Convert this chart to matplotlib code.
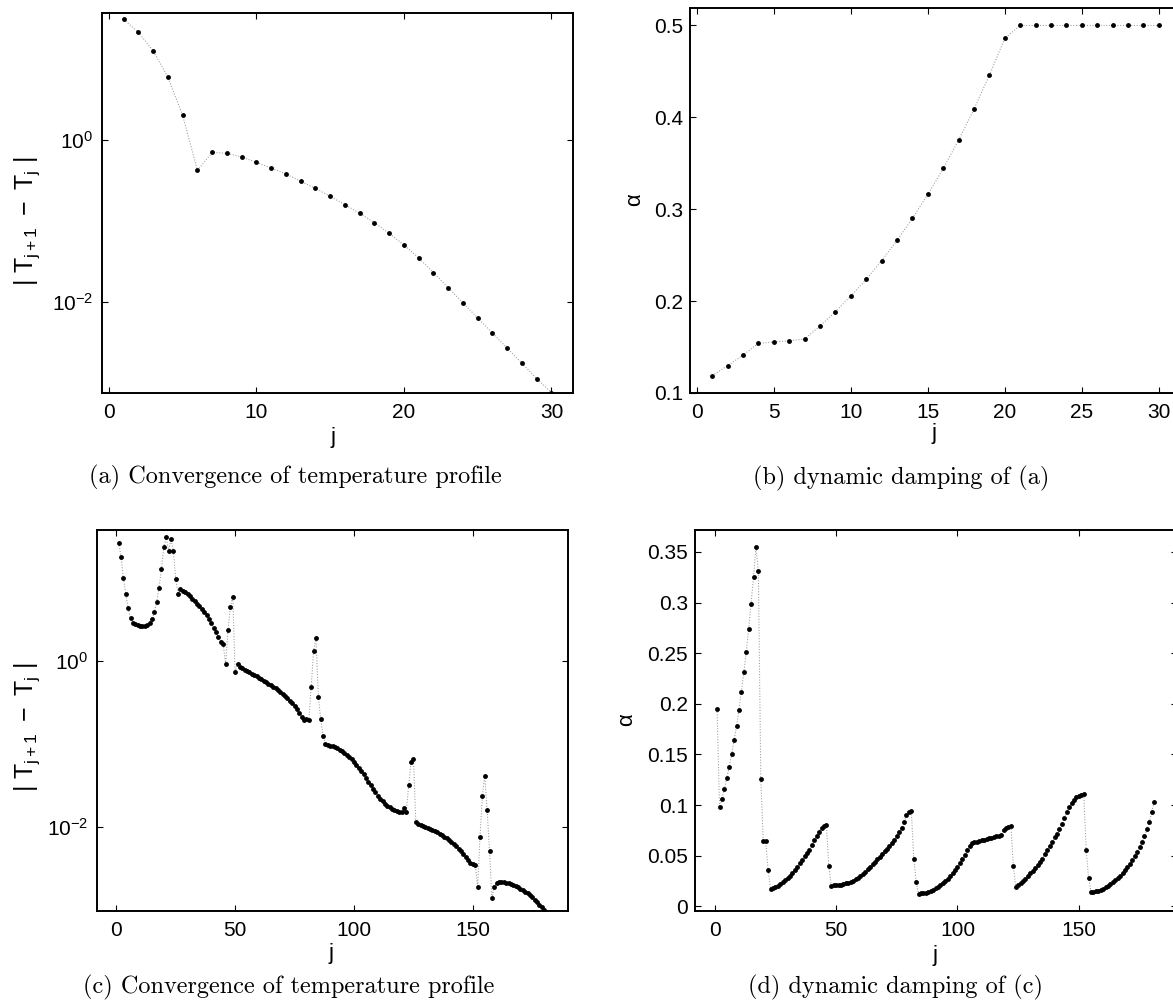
import numpy as np
import matplotlib
matplotlib.use('Agg')
import matplotlib.pyplot as plt
from matplotlib.ticker import FixedLocator, FixedFormatter, NullLocator

plt.rcParams['font.family'] = ['Liberation Sans', 'DejaVu Sans']
plt.rcParams['mathtext.fontset'] = 'custom'
plt.rcParams['mathtext.rm'] = 'Liberation Sans'
plt.rcParams['mathtext.it'] = 'Liberation Sans:italic'
plt.rcParams['mathtext.bf'] = 'Liberation Sans:bold'
plt.rcParams['mathtext.sf'] = 'Liberation Sans'

# ---------------- data ----------------
# (a) log10 |T_{j+1} - T_j| for j = 1..30
a_j = list(range(1, 31))
a_log10 = [1.493, 1.332, 1.105, 0.775, 0.305, -0.375, -0.153, -0.165, -0.210, -0.276,
           -0.346, -0.421, -0.511, -0.598, -0.697, -0.800, -0.907, -1.023, -1.155, -1.299,
           -1.460, -1.641, -1.827, -2.016, -2.202, -2.388, -2.577, -2.763, -2.953, -3.126]

# (b) alpha for j = 1..30
b_j = list(range(1, 31))
b_alpha = [0.1189, 0.1297, 0.1413, 0.1540, 0.1555, 0.1569, 0.1587, 0.1729, 0.1885, 0.2055,
           0.2237, 0.2440, 0.2661, 0.2901, 0.3161, 0.3444, 0.3753, 0.4090, 0.4460, 0.4862,
           0.5, 0.5, 0.5, 0.5, 0.5, 0.5, 0.5, 0.5, 0.5, 0.5]

# (c) log10 |T_{j+1} - T_j| for j = 1..180
c_j = list(range(1, 181))
c_log10 = [
    1.429, 1.260, 1.002, 0.813, 0.640, 0.515, 0.463, 0.443, 0.431, 0.423,
    0.423, 0.427, 0.439, 0.463, 0.503, 0.588, 0.716, 0.885, 1.107, 1.372,
    1.501, 1.328, 1.469, 1.328, 0.994, 0.813,
    0.865, 0.849, 0.829, 0.805, 0.781, 0.753, 0.724, 0.692, 0.660, 0.624,
    0.596, 0.551, 0.503, 0.455, 0.402, 0.350, 0.290, 0.233, 0.201,
    -0.036, 0.374, 0.656, 0.777, -0.133, -0.032,
    -0.076, -0.089, -0.105, -0.121, -0.137, -0.153, -0.169, -0.185, -0.201, -0.217,
    -0.237, -0.258, -0.274, -0.294, -0.310, -0.330, -0.350, -0.370, -0.394, -0.419,
    -0.447, -0.479, -0.511, -0.543, -0.584, -0.624, -0.672, -0.712,
    -0.696, -0.712, -0.310, 0.121, 0.274, -0.431, -0.700, -0.901,
    -1.006, -1.018, -1.022, -1.030, -1.042, -1.054, -1.070, -1.091, -1.111, -1.135,
    -1.159, -1.187, -1.219, -1.252, -1.288, -1.328, -1.368, -1.412, -1.457, -1.501,
    -1.545, -1.586, -1.626, -1.662, -1.694, -1.722, -1.746, -1.767, -1.783, -1.799,
    -1.811, -1.819, -1.823,
    -1.779, -1.819, -1.497, -1.223, -1.179,
    -1.940, -1.968, -1.980, -1.992, -2.000, -2.012, -2.024, -2.036, -2.052, -2.068,
    -2.085, -2.101, -2.121, -2.141, -2.161, -2.185, -2.213, -2.237, -2.266, -2.298,
    -2.330, -2.366, -2.402, -2.435, -2.455, -2.459,
    -2.732, -2.121, -1.630, -1.384, -1.799, -2.294, -2.857, -2.724,
    -2.684, -2.672, -2.668, -2.672, -2.676, -2.684, -2.692, -2.704, -2.716, -2.732,
    -2.748, -2.765, -2.785, -2.805, -2.829, -2.853, -2.881, -2.909, -2.942, -2.974,
    -3.006]

# (d) alpha for j = 1..181
d_j = list(range(1, 182))
d_alpha = [
    0.195, 0.098, 0.106, 0.116, 0.127, 0.138, 0.150, 0.164, 0.178, 0.194,
    0.212, 0.231, 0.251, 0.274, 0.299, 0.325, 0.355, 0.331, 0.126, 0.065,
    0.065, 0.036,
    0.0175, 0.0181, 0.0191, 0.0204, 0.0221, 0.0241, 0.0264, 0.0283, 0.0303, 0.0330,
    0.0359, 0.0392, 0.0425, 0.0461, 0.0494, 0.0524, 0.0560, 0.0603, 0.0653, 0.0695,
    0.0738, 0.0778, 0.0791, 0.0804,
    0.0402,
    0.0204, 0.0206, 0.0208, 0.0211, 0.0214, 0.0221, 0.0227, 0.0234, 0.0244, 0.0254,
    0.0267, 0.0283, 0.0303, 0.0320, 0.0343, 0.0366, 0.0389, 0.0415, 0.0442, 0.0468,
    0.0491, 0.0517, 0.0544, 0.0570, 0.0597, 0.0626, 0.0659, 0.0692, 0.0732, 0.0778,
    0.0834, 0.0900, 0.0929, 0.0939,
    0.0471, 0.0241,
    0.0125, 0.0129, 0.0132, 0.0135, 0.0142, 0.0152, 0.0165, 0.0178, 0.0194, 0.0211,
    0.0231, 0.0250, 0.0274, 0.0300, 0.0326, 0.0356, 0.0389, 0.0425, 0.0465, 0.0508,
    0.0554, 0.0600, 0.0626, 0.0633, 0.0639, 0.0646, 0.0653, 0.0659, 0.0666, 0.0672,
    0.0679, 0.0686, 0.0692, 0.0699, 0.0705,
    0.0758, 0.0771, 0.0784, 0.0794,
    0.0396,
    0.0190, 0.0210, 0.0228, 0.0250, 0.0272, 0.0298, 0.0325, 0.0350, 0.0378, 0.0405,
    0.0435, 0.0470, 0.0521, 0.0560, 0.0595, 0.0635, 0.0680, 0.0715, 0.0765, 0.0817,
    0.0875, 0.0935, 0.0985, 0.1020, 0.1055, 0.1075, 0.1090, 0.1102, 0.1111,
    0.0554, 0.0280,
    0.0142, 0.0145, 0.0148, 0.0155, 0.0165, 0.0175, 0.0188, 0.0201, 0.0218, 0.0237,
    0.0257, 0.0280, 0.0303, 0.0330, 0.0359, 0.0389, 0.0422, 0.0458, 0.0498, 0.0541,
    0.0587, 0.0636, 0.0692, 0.0760, 0.0830, 0.0935, 0.1032]

ab_xticks = [0, 10, 20, 30]
b_xticks = [0, 5, 10, 15, 20, 25, 30]
cd_xticks = [0, 50, 100, 150]
log_yticks = [1e-2, 1e0]
log_yticklabels = [r'$10^{-2}$', r'$10^{0}$']
b_yticks = [0.1, 0.2, 0.3, 0.4, 0.5]
b_yticklabels = ['0.1', '0.2', '0.3', '0.4', '0.5']
d_yticks = [0, 0.05, 0.1, 0.15, 0.2, 0.25, 0.3, 0.35]
d_yticklabels = ['0', '0.05', '0.1', '0.15', '0.2', '0.25', '0.3', '0.35']

captions = ['(a) Convergence of temperature profile', '(b) dynamic damping of (a)',
            '(c) Convergence of temperature profile', '(d) dynamic damping of (c)']
ylab_T = r'$\mathrm{|\ T_{j+1}\ -\ T_j\ |}$'
ylab_alpha = 'α'
xlab = 'j'

# ---------------- figure ----------------
W, H = 1173, 1008
fig = plt.figure(figsize=(W / 100, H / 100), dpi=100)


def add_axes(l, r, t, b):
    return fig.add_axes([l / W, 1 - b / H, (r - l) / W, (b - t) / H])


def style(ax, ypad):
    ax.tick_params(which='both', direction='in', top=True, right=True,
                   length=4, width=0.8, labelsize=15, color='k')
    ax.tick_params(axis='y', pad=ypad)
    ax.tick_params(axis='x', pad=7)
    for s in ax.spines.values():
        s.set_linewidth(1.4)
        s.set_color('k')


def draw(ax, x, y):
    ax.plot(x, y, linestyle=':', color='0.6', lw=0.75, zorder=1)
    ax.plot(x, y, linestyle='none', marker='o', ms=3.5, mfc='k', mec='k', mew=0, zorder=2)


# (a)
axa = add_axes(102, 573, 13, 393)
draw(axa, a_j, np.power(10.0, a_log10))
axa.set_yscale('log')
axa.set_xlim(-0.47, 31.46)
axa.set_ylim(10 ** -3.131, 10 ** 1.572)
axa.xaxis.set_major_locator(FixedLocator(ab_xticks))
axa.yaxis.set_major_locator(FixedLocator(log_yticks))
axa.yaxis.set_major_formatter(FixedFormatter(log_yticklabels))
axa.yaxis.set_minor_locator(NullLocator())
style(axa, 6.5)

# (b)
axb = add_axes(690, 1182, 8, 393)
draw(axb, b_j, b_alpha)
axb.set_xlim(-0.44, 31.5)
axb.set_ylim(0.1, 0.519)
axb.xaxis.set_major_locator(FixedLocator(b_xticks))
axb.yaxis.set_major_locator(FixedLocator(b_yticks))
axb.yaxis.set_major_formatter(FixedFormatter(b_yticklabels))
style(axb, 5)

# (c)
axc = add_axes(97, 567.5, 530, 911)
draw(axc, c_j, np.power(10.0, c_log10))
axc.set_yscale('log')
axc.set_xlim(-8.1, 189.8)
axc.set_ylim(10 ** -3.019, 10 ** 1.582)
axc.xaxis.set_major_locator(FixedLocator(cd_xticks))
axc.yaxis.set_major_locator(FixedLocator(log_yticks))
axc.yaxis.set_major_formatter(FixedFormatter(log_yticklabels))
axc.yaxis.set_minor_locator(NullLocator())
style(axc, 6.5)

# (d)
axd = add_axes(695, 1177, 530, 911)
draw(axd, d_j, d_alpha)
axd.set_xlim(-8.1, 190.4)
axd.set_ylim(-0.0046, 0.3717)
axd.xaxis.set_major_locator(FixedLocator(cd_xticks))
axd.yaxis.set_major_locator(FixedLocator(d_yticks))
axd.yaxis.set_major_formatter(FixedFormatter(d_yticklabels))
style(axd, 5)


def ftext(x, y, s, **kw):
    fig.text(x / W, 1 - y / H, s, ha='center', va='center', **kw)


# axis labels
ftext(333, 437, xlab, size=16)
ftext(934, 433, xlab, size=16)
ftext(331, 953, xlab, size=16)
ftext(935, 955, xlab, size=16)
ftext(27, 221, ylab_T, size=18, rotation=90)
ftext(27, 727, ylab_T, size=18, rotation=90)
ftext(635, 200, ylab_alpha, size=16, rotation=90)
ftext(627, 720, ylab_alpha, size=16, rotation=90)

# captions
cap_pos = [(295, 477), (901, 478), (289, 987), (895, 987)]
for (cx, cy), cap in zip(cap_pos, captions):
    ftext(cx, cy, cap, size=17.5, family='cmr10')

fig.savefig('out.png', dpi=100, facecolor='white')
